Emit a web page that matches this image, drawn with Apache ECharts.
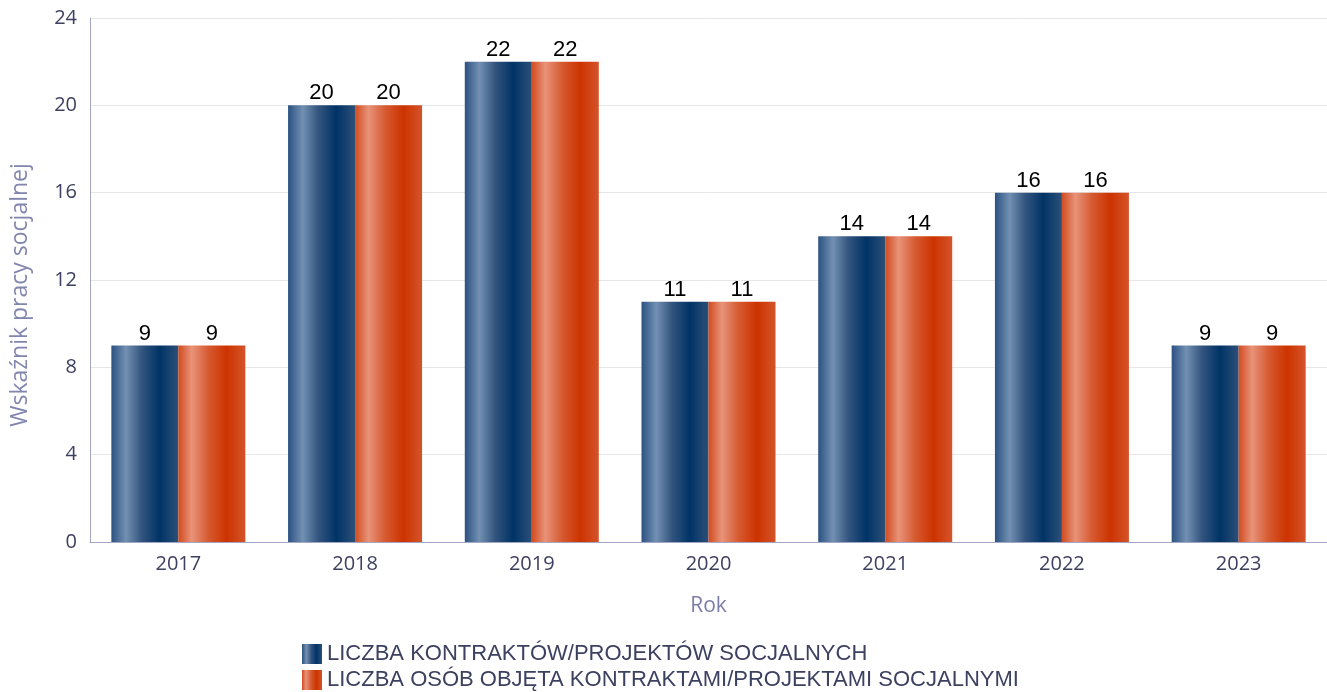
<!DOCTYPE html>
<html>
<head>
<meta charset="utf-8">
<script src="https://cdn.jsdelivr.net/npm/echarts@6/dist/echarts.min.js"></script>
<style>
  html, body { margin: 0; padding: 0; background: #fff; }
  #chart { width: 1327px; height: 692px; }
</style>
</head>
<body>
<div id="chart"></div>
<script>
const years = ['2017', '2018', '2019', '2020', '2021', '2022', '2023'];
const kontrakty = [9, 20, 22, 11, 14, 16, 9];
const osoby = [9, 20, 22, 11, 14, 16, 9];
const seriesNames = [
  'LICZBA KONTRAKTÓW/PROJEKTÓW SOCJALNYCH',
  'LICZBA OSÓB OBJĘTA KONTRAKTAMI/PROJEKTAMI SOCJALNYMI'
];

const blueGrad = new echarts.graphic.LinearGradient(0, 0, 1, 0, [
  { offset: 0, color: '#2b5282' },
  { offset: 0.22, color: '#7390b2' },
  { offset: 0.45, color: '#33557f' },
  { offset: 0.72, color: '#003366' },
  { offset: 1, color: '#2c5078' }
]);
const orangeGrad = new echarts.graphic.LinearGradient(0, 0, 1, 0, [
  { offset: 0, color: '#d24b1e' },
  { offset: 0.2, color: '#e8937a' },
  { offset: 0.45, color: '#d65a30' },
  { offset: 0.72, color: '#cc3300' },
  { offset: 1, color: '#d4542a' }
]);

const font = '"Open Sans", "Noto Sans", sans-serif';
const font2 = '"Liberation Sans", Arial, sans-serif';
const chart = echarts.init(document.getElementById('chart'));
const option = {
  animation: false,
  textStyle: { fontFamily: font },
  grid: { left: 90, right: 0, top: 18, bottom: 150, outerBoundsMode: 'none' },
  legend: {
    orient: 'vertical',
    left: 302,
    top: 643,
    padding: 0,
    itemWidth: 20,
    itemHeight: 20,
    itemGap: 4,
    icon: 'rect',
    textStyle: { fontSize: 22, lineHeight: 20, color: '#3d4160', fontFamily: font2 },
    data: seriesNames
  },
  xAxis: {
    type: 'category',
    data: years,
    name: 'Rok',
    nameLocation: 'middle',
    nameGap: 54,
    nameTextStyle: { fontSize: 21, color: '#7a7ea8' },
    axisLine: { lineStyle: { color: '#a3a6c2' } },
    axisTick: { show: false },
    axisLabel: { fontSize: 20, color: '#3d4060', margin: 12 }
  },
  yAxis: {
    type: 'value',
    min: 0,
    max: 24,
    interval: 4,
    name: 'Wskaźnik pracy socjalnej',
    nameLocation: 'middle',
    nameGap: 58,
    nameTextStyle: { fontSize: 23, color: '#8286ae', padding: [0, 30, 0, 0] },
    axisLine: { show: true, lineStyle: { color: '#a3a6c2' } },
    axisLabel: { fontSize: 20, color: '#3d4060', margin: 13 },
    splitLine: { lineStyle: { color: '#e6e6e6' } }
  },
  series: [
    {
      name: seriesNames[0],
      type: 'bar',
      data: kontrakty,
      barWidth: 67,
      barGap: '0%',
      itemStyle: { color: blueGrad },
      label: { show: true, position: 'top', distance: 1, fontSize: 22, color: '#000', fontFamily: font2 }
    },
    {
      name: seriesNames[1],
      type: 'bar',
      data: osoby,
      barWidth: 67,
      barGap: '0%',
      itemStyle: { color: orangeGrad },
      label: { show: true, position: 'top', distance: 1, fontSize: 22, color: '#000', fontFamily: font2 }
    }
  ]
};
chart.setOption(option);
</script>
</body>
</html>
